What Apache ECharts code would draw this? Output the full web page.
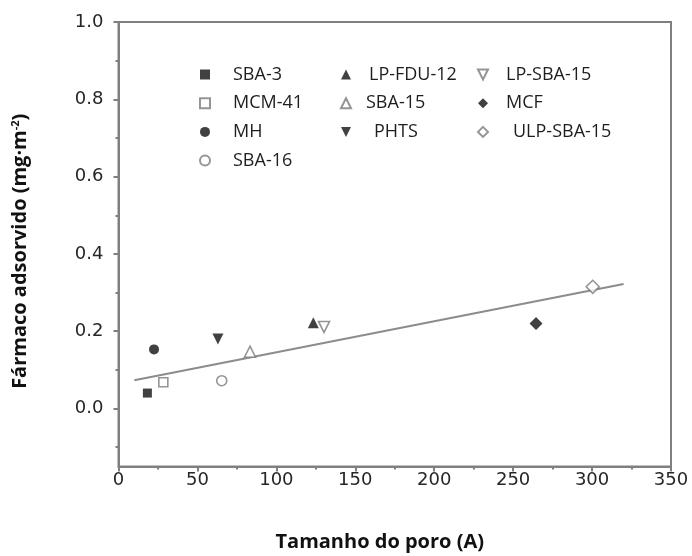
<!DOCTYPE html>
<html>
<head>
<meta charset="utf-8">
<script src="https://cdn.jsdelivr.net/npm/echarts@6/dist/echarts.min.js"></script>
<style>
  html, body { margin: 0; padding: 0; background: #fff; }
  #chart { width: 692px; height: 556px; }
</style>
</head>
<body>
<div id="chart"></div>
<script>
// Pore size (Å) vs adsorbed drug (mg·m⁻²) for each mesoporous material
const materials = ['SBA-3', 'MCM-41', 'MH', 'SBA-16', 'LP-FDU-12', 'SBA-15', 'PHTS', 'LP-SBA-15', 'MCF', 'ULP-SBA-15'];
const poreSize  = [18.3, 28.4, 22.5, 65.4, 123.4, 83.3, 63.0, 130.2, 264.5, 300.4];
const adsorbed  = [0.040, 0.068, 0.153, 0.072, 0.222, 0.147, 0.180, 0.211, 0.220, 0.315];

// Linear trend line end points
const trendX = [10, 320];
const trendY = [0.073, 0.322];

// Axis tick values
const yMajorTicks = [0, 0.2, 0.4, 0.6, 0.8, 1.0];
const yMinorTicks = [-0.1, 0.1, 0.3, 0.5, 0.7, 0.9];

// Legend columns
const legendCols = [
  ['SBA-3', 'MCM-41', 'MH', 'SBA-16'],
  ['LP-FDU-12', 'SBA-15', 'PHTS'],
  ['LP-SBA-15', 'MCF', 'ULP-SBA-15']
];

// Marker shapes
const TRI_UP = 'path://M1,0L2,2L0,2Z';
const TRI_DOWN = 'path://M0,0L2,0L1,2Z';
const DIAMOND = 'path://M1,0L2,1L1,2L0,1Z';

const FILL = '#111111';
const OPEN = '#7a7a7a';
const markerStyle = {
  'SBA-3':      { symbol: 'rect',   size: 9,  filled: true },
  'MCM-41':     { symbol: 'rect',   size: 9,  filled: false },
  'MH':         { symbol: 'circle', size: 10, filled: true },
  'SBA-16':     { symbol: 'circle', size: 10, filled: false },
  'LP-FDU-12':  { symbol: TRI_UP,   size: 11, filled: true },
  'SBA-15':     { symbol: TRI_UP,   size: 11, filled: false },
  'PHTS':       { symbol: TRI_DOWN, size: 11, filled: true },
  'LP-SBA-15':  { symbol: TRI_DOWN, size: 11, filled: false },
  'MCF':        { symbol: DIAMOND,  size: 13, filled: true },
  'ULP-SBA-15': { symbol: DIAMOND,  size: 13, filled: false }
};

// Extra left padding of each legend label
const legendTextPad = {
  'SBA-3': 18, 'MCM-41': 18, 'MH': 18, 'SBA-16': 18,
  'LP-FDU-12': 13, 'SBA-15': 10, 'PHTS': 18,
  'LP-SBA-15': 13, 'MCF': 13, 'ULP-SBA-15': 20
};
const legendLeft = [199, 340, 477];

const AXIS = '#808080';
const LABEL = '#262626';

const scatterSeries = materials.map((name, i) => {
  const m = markerStyle[name];
  return {
    name: name,
    type: 'scatter',
    xAxisIndex: 0,
    yAxisIndex: 0,
    symbol: m.symbol,
    symbolSize: m.size,
    z: 3,
    itemStyle: m.filled
      ? { color: FILL, borderColor: FILL, borderWidth: 0 }
      : { color: '#ffffff', borderColor: OPEN, borderWidth: 1.6 },
    data: [[poreSize[i], adsorbed[i]]]
  };
});

const trendSeries = {
  name: 'trend',
  type: 'line',
  xAxisIndex: 0,
  yAxisIndex: 0,
  showSymbol: false,
  symbol: 'none',
  silent: true,
  z: 2,
  lineStyle: { color: '#8c8c8c', width: 2 },
  data: trendX.map((x, i) => [x, trendY[i]])
};

const legends = legendCols.map((col, k) => ({
  data: col.map(name => ({
    name: name,
    icon: markerStyle[name].symbol,
    textStyle: { padding: [0, 0, 0, legendTextPad[name]] }
  })),
  orient: 'vertical',
  left: legendLeft[k],
  top: 64.5,
  itemWidth: 10,
  itemHeight: 10,
  itemGap: 8.7,
  padding: 0,
  selectedMode: false,
  textStyle: {
    fontFamily: 'Open Sans',
    fontSize: 18,
    color: '#1e1e1e',
    lineHeight: 20
  }
}));

const chart = echarts.init(document.getElementById('chart'), null, { renderer: 'canvas' });

chart.setOption({
  animation: false,
  backgroundColor: '#ffffff',
  grid: {
    left: 118.5,
    right: 21,
    top: 22,
    bottom: 89.5,
    outerBoundsMode: 'none',
    containLabel: false,
    show: true,
    borderColor: AXIS,
    borderWidth: 2,
    backgroundColor: 'transparent'
  },
  legend: legends,
  xAxis: [{
    type: 'value',
    min: 0,
    max: 350,
    interval: 50,
    name: 'Tamanho do poro (A)',
    nameLocation: 'middle',
    nameGap: 66,
    nameTextStyle: {
      fontFamily: 'Open Sans',
      fontWeight: 'bold',
      fontSize: 20,
      color: '#111111',
      padding: [0, 30, 0, 0]
    },
    axisLine: { show: true, onZero: false, lineStyle: { color: AXIS, width: 2 } },
    axisTick: { show: true, length: 5, lineStyle: { color: AXIS, width: 2 } },
    minorTick: { show: true, splitNumber: 2, length: 3, lineStyle: { color: AXIS, width: 2 } },
    axisLabel: {
      margin: 5,
      fontFamily: 'DejaVu Sans',
      fontSize: 18,
      color: LABEL
    },
    splitLine: { show: false },
    minorSplitLine: { show: false }
  }],
  yAxis: [{
    type: 'value',
    min: -0.15,
    max: 1.0,
    name: 'Fármaco adsorvido (mg·m{sup|-2})',
    nameLocation: 'middle',
    nameGap: 88,
    nameRotate: 90,
    nameTextStyle: {
      fontFamily: 'Open Sans',
      fontWeight: 'bold',
      fontSize: 20,
      color: '#111111',
      padding: [0, 14, 0, 0],
      rich: {
        sup: {
          fontFamily: 'Open Sans',
          fontWeight: 'bold',
          fontSize: 11,
          color: '#111111',
          verticalAlign: 'top',
          padding: [0, 0, 9, 0]
        }
      }
    },
    axisLine: { show: true, onZero: false, lineStyle: { color: AXIS, width: 2 } },
    axisTick: { show: true, length: 5, customValues: yMajorTicks, lineStyle: { color: AXIS, width: 2 } },
    axisLabel: {
      margin: 15,
      fontFamily: 'DejaVu Sans',
      fontSize: 18,
      color: LABEL,
      customValues: yMajorTicks,
      formatter: v => v.toFixed(1)
    },
    splitLine: { show: false }
  }, {
    // minor ticks on the left axis
    type: 'value',
    min: -0.15,
    max: 1.0,
    position: 'left',
    axisLine: { show: false },
    axisTick: { show: true, length: 3, customValues: yMinorTicks, lineStyle: { color: AXIS, width: 2 } },
    axisLabel: { show: false },
    splitLine: { show: false }
  }],
  series: [trendSeries].concat(scatterSeries)
});
</script>
</body>
</html>
